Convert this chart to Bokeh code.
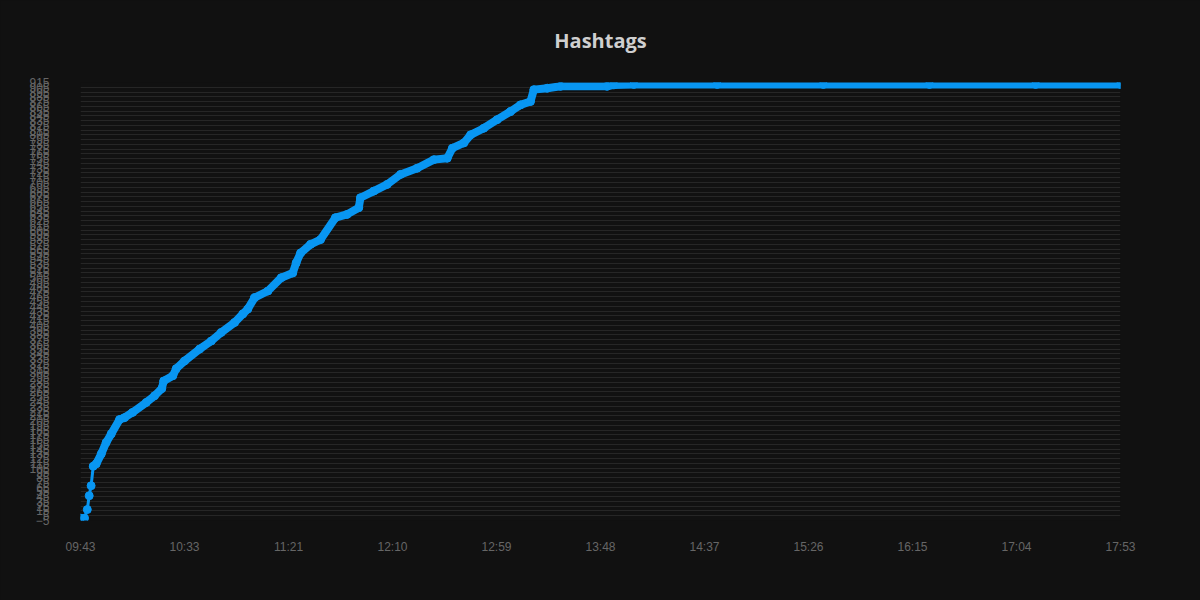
from bokeh.plotting import figure
from bokeh.models import Range1d, FixedTicker, ColumnDataSource
from bokeh.embed import file_html
from bokeh.resources import INLINE

# ---- data (minutes after 09:43, cumulative hashtag count) ----
minutes = [0.0, 1.9, 3.2, 4.1, 5.0, 6.0, 7.4, 9.8, 12.1, 14.5, 18.4, 20.7, 24.5,
           31.0, 34.9, 38.3, 39.2, 43.5, 45.1, 49.0, 56.1, 61.6, 66.3, 72.6, 76.5,
           78.8, 82.0, 88.3, 94.6, 100.0, 101.6, 103.7, 108.4, 113.1, 120.1, 125.6,
           131.1, 131.9, 138.2, 144.5, 150.8, 158.6, 166.5, 172.8, 175.2, 180.6,
           183.8, 190.0, 196.3, 202.6, 207.3, 212.0, 213.6, 219.9, 226.2, 248.1,
           251.3, 260.7, 300.0, 350.0, 400.0, 450.0, 490.0]
hashtags = [0, 0, 18, 47, 68, 109, 114, 135, 159, 177, 207, 211, 222,
            243, 257, 272, 288, 299, 314, 330, 355, 372, 390, 411, 429,
            439, 463, 477, 505, 515, 536, 557, 575, 585, 631, 638,
            652, 673, 687, 701, 722, 735, 753, 756, 777, 788,
            805, 819, 837, 854, 868, 875, 900, 903, 907, 907,
            910, 911, 911, 911, 911, 911, 911]

x_tick_pos = [0, 49, 98, 147, 196, 245, 294, 343, 392, 441, 490]
x_tick_labels = ["09:43", "10:33", "11:21", "12:10", "12:59", "13:48",
                 "14:37", "15:26", "16:15", "17:04", "17:53"]
y_ticks = list(range(-5, 925, 10))
title_text = "Hashtags"

BG = "#111111"
BLUE = "#0896f2"

src = ColumnDataSource(dict(x=minutes, y=hashtags))
src_dense = ColumnDataSource(dict(x=minutes[5:], y=hashtags[5:]))

p = figure(width=1200, height=600, output_backend="svg", toolbar_location=None,
           x_range=Range1d(0, 490), y_range=Range1d(-5, 915),
           min_border_left=80, min_border_right=80, min_border_bottom=80,
           min_border_top=81)

p.background_fill_color = BG
p.border_fill_color = BG
p.outline_line_color = None

p.title.text = title_text
p.title.align = "center"
p.title.vertical_align = "top"
p.title.text_font = "Open Sans"
p.title.text_font_style = "bold"
p.title.text_font_size = "20px"
p.title.text_color = "#cfcfcf"
p.title.standoff = 53

p.line("x", "y", source=src, line_color=BLUE, line_width=3)
p.line("x", "y", source=src_dense, line_color=BLUE, line_width=8,
       line_join="round", line_cap="round")
p.scatter("x", "y", source=src, size=8, fill_color=BLUE, line_color=BLUE)

p.xaxis.ticker = FixedTicker(ticks=x_tick_pos)
p.xaxis.major_label_overrides = {t: l for t, l in zip(x_tick_pos, x_tick_labels)}
p.yaxis.ticker = FixedTicker(ticks=y_ticks)

for ax in (p.xaxis, p.yaxis):
    ax.axis_line_color = None
    ax.major_tick_line_color = None
    ax.minor_tick_line_color = None
    ax.major_label_text_color = "#666666"
    ax.major_label_text_font = "Liberation Sans"
    ax.major_label_text_font_size = "12px"

p.xaxis.major_label_standoff = 13
p.yaxis.major_label_standoff = 25

p.xgrid.grid_line_color = None
p.ygrid.grid_line_color = "#262626"
p.ygrid.grid_line_width = 1

html = file_html(p, INLINE)
html = html.replace("<head>", "<head><style>body{background:#111111;}</style>", 1)
open("out.html", "w").write(html)
